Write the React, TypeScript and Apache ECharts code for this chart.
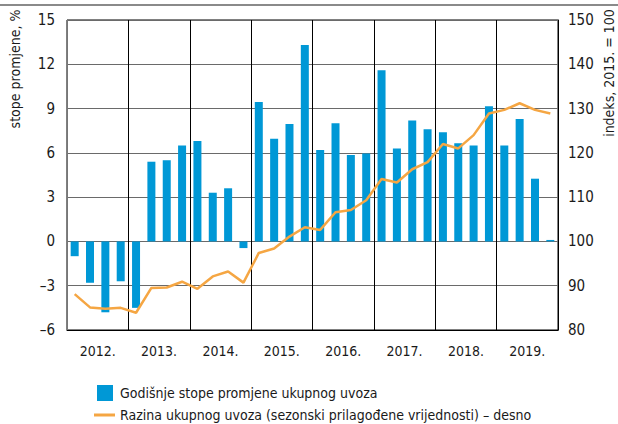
import React, { useEffect, useRef } from "react";
import * as echarts from "echarts";

const quarters: string[] = [];
const years = ["2012.", "2013.", "2014.", "2015.", "2016.", "2017.", "2018.", "2019."];
years.forEach((y) => ["Q1", "Q2", "Q3", "Q4"].forEach((q) => quarters.push(y + q)));

const growthRates = [
  -1.0, -2.8, -4.8, -2.7,
  -4.5, 5.4, 5.5, 6.5,
  6.8, 3.3, 3.6, -0.45,
  9.45, 6.95, 7.95, 13.3,
  6.2, 8.0, 5.85, 5.95,
  11.6, 6.3, 8.2, 7.6,
  7.4, 6.65, 6.5, 9.15,
  6.5, 8.3, 4.25, 0.1,
];

const importLevel = [
  88.1, 85.1, 84.8, 85.0,
  83.9, 89.5, 89.6, 90.9,
  89.3, 92.1, 93.2, 90.7,
  97.4, 98.4, 101.1, 103.2,
  102.6, 106.6, 107.1, 109.3,
  114.1, 113.3, 116.3, 117.9,
  122.0, 121.0, 124.0, 128.9,
  129.7, 131.2, 129.7, 128.9,
];

const leftTicks = { min: -6, max: 15, interval: 3 };
const rightTicks = { min: 80, max: 150, interval: 10 };

const barName = "Godišnje stope promjene ukupnog uvoza";
const lineName = "Razina ukupnog uvoza (sezonski prilagođene vrijednosti) – desno";
const leftAxisName = "stope promjene, %";
const rightAxisName = "indeks, 2015. = 100";

const FONT = "'Liberation Sans Narrow', 'DejaVu Sans Condensed', 'Arial Narrow', sans-serif";
const BLUE = "#0098d6";
const ORANGE = "#f5a643";
const TXT = "#1a1a1a";

export default function App() {
  const ref = useRef<HTMLDivElement>(null);
  useEffect(() => {
    if (!ref.current) return;
    const chart = echarts.init(ref.current, undefined, { renderer: "svg" });
    const minus = (v: number) => String(v).replace("-", "–");
    chart.setOption({
      animation: false,
      textStyle: { fontFamily: FONT, color: TXT },
      grid: { left: 67, right: 60, top: 20, bottom: 94, show: true, borderColor: "#000", borderWidth: 1 },
      graphic: [
        { type: "rect", shape: { x: 0, y: 4, width: 618, height: 2 }, style: { fill: "#8a8a8a" } },
        {
          type: "text", x: 15, y: 69, rotation: Math.PI / 2,
          style: { text: leftAxisName, fontFamily: FONT, fontSize: 14, fill: TXT, align: "center", verticalAlign: "middle" },
        },
        {
          type: "text", x: 609, y: 73, rotation: Math.PI / 2,
          style: { text: rightAxisName, fontFamily: FONT, fontSize: 14, fill: TXT, align: "center", verticalAlign: "middle" },
        },
      ],
      legend: [
        {
          data: [{ name: barName, itemStyle: { color: BLUE } }],
          left: 97, top: 385, itemWidth: 16, itemHeight: 16, itemGap: 0, icon: "rect",
          textStyle: { fontFamily: FONT, fontSize: 14, color: TXT, padding: [0, 0, 0, 2] },
          padding: 0,
        },
        {
          data: [{ name: lineName, itemStyle: { color: ORANGE } }],
          left: 94, top: 408, itemWidth: 21, itemHeight: 3, icon: "rect",
          textStyle: { fontFamily: FONT, fontSize: 14, color: TXT },
          padding: 0,
        },
      ],
      xAxis: [
        {
          type: "category", data: quarters, gridIndex: 0, position: "bottom",
          axisLine: { show: false }, axisTick: { show: false }, axisLabel: { show: false }, splitLine: { show: false },
        },
        {
          type: "category", data: years, gridIndex: 0, position: "bottom", boundaryGap: true,
          axisLine: { show: true, lineStyle: { color: "#000", width: 1 } },
          axisTick: { show: false },
          axisLabel: { fontFamily: FONT, fontSize: 14, color: TXT, margin: 14 },
          splitLine: { show: true, lineStyle: { color: "#000", width: 1 } },
        },
      ],
      yAxis: [
        {
          type: "value", ...leftTicks, position: "left",
          axisLine: { show: true, lineStyle: { color: "#777", width: 1 } },
          axisTick: { show: false },
          axisLabel: { fontFamily: FONT, fontSize: 15, color: TXT, margin: 12, formatter: minus },
          splitLine: { show: true, lineStyle: { color: "#6a6a6a", width: 1 } },
        },
        {
          type: "value", ...rightTicks, position: "right",
          axisLine: { show: true, lineStyle: { color: "#000", width: 1 } },
          axisTick: { show: false },
          axisLabel: { fontFamily: FONT, fontSize: 15, color: TXT, margin: 10 },
          splitLine: { show: false },
        },
      ],
      series: [
        {
          name: barName, type: "bar", data: growthRates, xAxisIndex: 0, yAxisIndex: 0,
          barWidth: 8, itemStyle: { color: BLUE }, z: 3,
        },
        {
          name: lineName, type: "line", data: importLevel, xAxisIndex: 0, yAxisIndex: 1,
          showSymbol: false, symbol: "none", lineStyle: { color: ORANGE, width: 2.5 }, itemStyle: { color: ORANGE }, z: 4,
        },
      ],
    });
    return () => chart.dispose();
  }, []);
  return <div ref={ref} style={{ width: 618, height: 424, position: "absolute", left: 0, top: 0 }} />;
}
